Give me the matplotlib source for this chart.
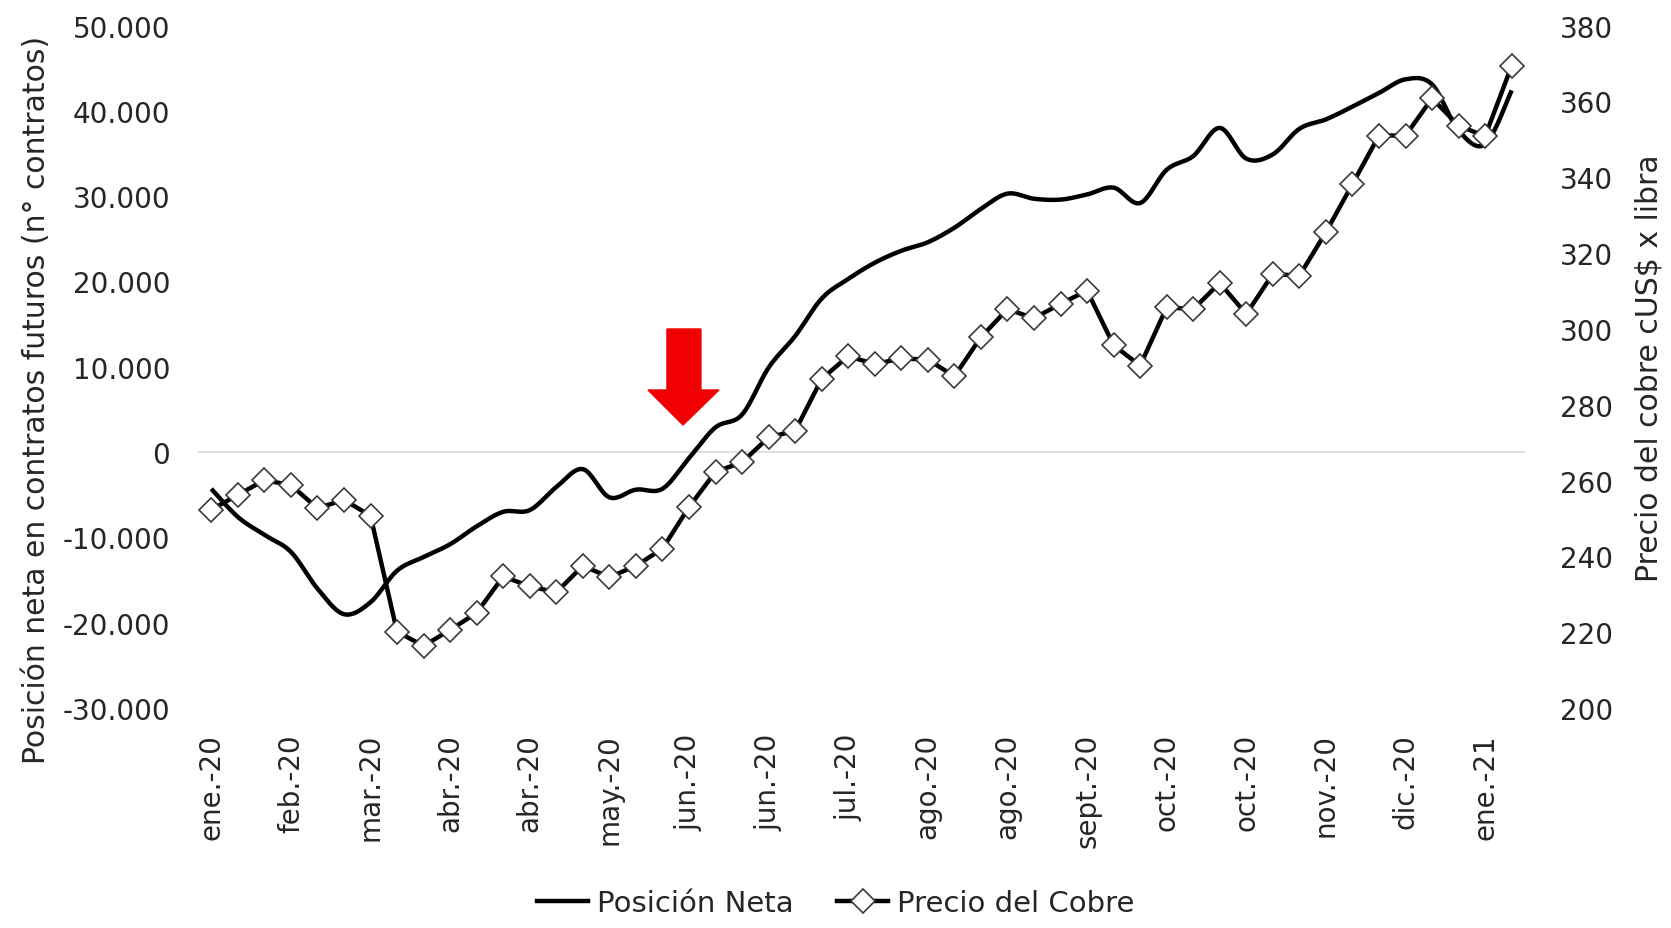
import numpy as np
import matplotlib
matplotlib.use("Agg")
import matplotlib.pyplot as plt
from matplotlib.lines import Line2D
from matplotlib.patches import Polygon
from matplotlib.ticker import FuncFormatter, FixedLocator

plt.rcParams["font.family"] = ["DejaVu Sans"]

# weekly data, ene-2020 .. ene-2021 (50 weeks)
posicion_neta = [
    -4300, -7600, -9700, -11700, -16000, -19000, -17600, -13900, -12300, -10800,
    -8700, -7000, -6800, -4100, -2000, -5300, -4400, -4300, -700, 2900,
    4400, 9900, 13600, 18000, 20300, 22200, 23600, 24600, 26300, 28500,
    30300, 29700, 29600, 30200, 31000, 29200, 33100, 34700, 38000, 34400,
    34900, 37900, 39000, 40500, 42100, 43700, 43100, 37700, 36100, 42400,
]
precio_cobre = [
    252.3, 256.2, 260.1, 258.8, 252.7, 254.9, 250.7, 220.1, 216.4, 220.6,
    225.1, 234.7, 232.1, 230.5, 237.5, 234.5, 237.5, 242.0, 253.0, 262.3,
    264.8, 271.4, 273.1, 286.8, 292.8, 290.7, 292.2, 291.9, 287.5, 297.8,
    305.2, 302.8, 306.6, 310.1, 295.7, 290.3, 305.7, 305.2, 312.1, 303.9,
    314.5, 314.0, 325.5, 338.2, 351.0, 351.0, 360.8, 353.6, 350.8, 369.4,
]
tick_labels = ["ene.-20", "feb.-20", "mar.-20", "abr.-20", "abr.-20", "may.-20",
               "jun.-20", "jun.-20", "jul.-20", "ago.-20", "ago.-20", "sept.-20",
               "oct.-20", "oct.-20", "nov.-20", "dic.-20", "ene.-21"]
tick_every = 3

TXT = "#262626"
FS = 20


def smooth_line(x, y, n=20):
    """Catmull-Rom curve through the points (like Excel's smoothed line)."""
    p = np.column_stack([x, y]).astype(float)
    p = np.vstack([p[0], p, p[-1]])
    t = np.linspace(0, 1, n, endpoint=False)[:, None]
    out = []
    for i in range(1, len(p) - 2):
        p0, p1, p2, p3 = p[i - 1], p[i], p[i + 1], p[i + 2]
        c = 0.5 * (2 * p1 + (-p0 + p2) * t + (2 * p0 - 5 * p1 + 4 * p2 - p3) * t ** 2
                   + (-p0 + 3 * p1 - 3 * p2 + p3) * t ** 3)
        out.append(c)
    out.append(p[-2][None])
    out = np.vstack(out)
    return out[:, 0], out[:, 1]


x = np.arange(len(precio_cobre))

fig = plt.figure(figsize=(16.71, 9.29), dpi=100)
ax = fig.add_axes([0.1185, 0.2368, 0.7941, 0.7346])
ax2 = ax.twinx()

# left axis: net position (smoothed)
sx, sy = smooth_line(x, posicion_neta)
ax.plot(sx, sy, color="black", lw=3.2, solid_capstyle="butt", zorder=3)
ax.axhline(0, color="#d9d9d9", lw=1.2, zorder=1)

# right axis: copper price with diamonds
ax2.plot(x, precio_cobre, color="black", lw=3.2, marker="D", ms=12.5,
         mfc="white", mec="#3a3a3a", mew=1.2, zorder=4)

ax.set_xlim(-0.5, len(x) - 0.5)
ax.set_ylim(-30000, 50000)
ax2.set_ylim(200, 380)
ax.set_yticks(np.arange(-30000, 50001, 10000))
ax2.set_yticks(np.arange(200, 381, 20))
ax.yaxis.set_major_formatter(FuncFormatter(lambda v, p: f"{int(v):,}".replace(",", ".")))

ax.xaxis.set_major_locator(FixedLocator(x[::tick_every]))
ax.set_xticklabels(tick_labels, rotation=90)

for a in (ax, ax2):
    for s in a.spines.values():
        s.set_visible(False)
ax.tick_params(axis="y", length=0, pad=20, labelsize=FS, labelcolor=TXT)
ax2.tick_params(axis="y", length=0, pad=25, labelsize=FS, labelcolor=TXT)
ax.tick_params(axis="x", length=0, pad=18, labelsize=FS, labelcolor=TXT)

ax.set_ylabel("Posición neta en contratos futuros (n° contratos)", fontsize=21.5,
              color=TXT, va="center")
ax.yaxis.set_label_coords(-0.1215, 0.453)
ax2.set_ylabel("Precio del cobre cUS$ x libra", fontsize=21.5, color=TXT, va="center")
ax2.yaxis.set_label_coords(1.0934, 0.5)

# red arrow marker
arrow = Polygon([(0.3534, 0.5554), (0.3790, 0.5554), (0.3790, 0.4660), (0.3926, 0.4660),
                 (0.3655, 0.4147), (0.3391, 0.4660), (0.3534, 0.4660)],
                closed=True, transform=ax.transAxes, color="#f00000", zorder=5)
ax.add_patch(arrow)

handles = [
    Line2D([], [], color="black", lw=3.2),
    Line2D([], [], color="black", lw=3.2, marker="D", ms=12.5, mfc="white",
           mec="#3a3a3a", mew=1.2),
]
fig.legend(handles, ["Posición Neta", "Precio del Cobre"], loc="center",
           bbox_to_anchor=(0.5, 0.027), ncol=2, frameon=False, fontsize=21,
           handlelength=1.75, handletextpad=0.3, columnspacing=1.5,
           labelcolor=TXT)

fig.savefig("out.png", dpi=100, facecolor="white")
